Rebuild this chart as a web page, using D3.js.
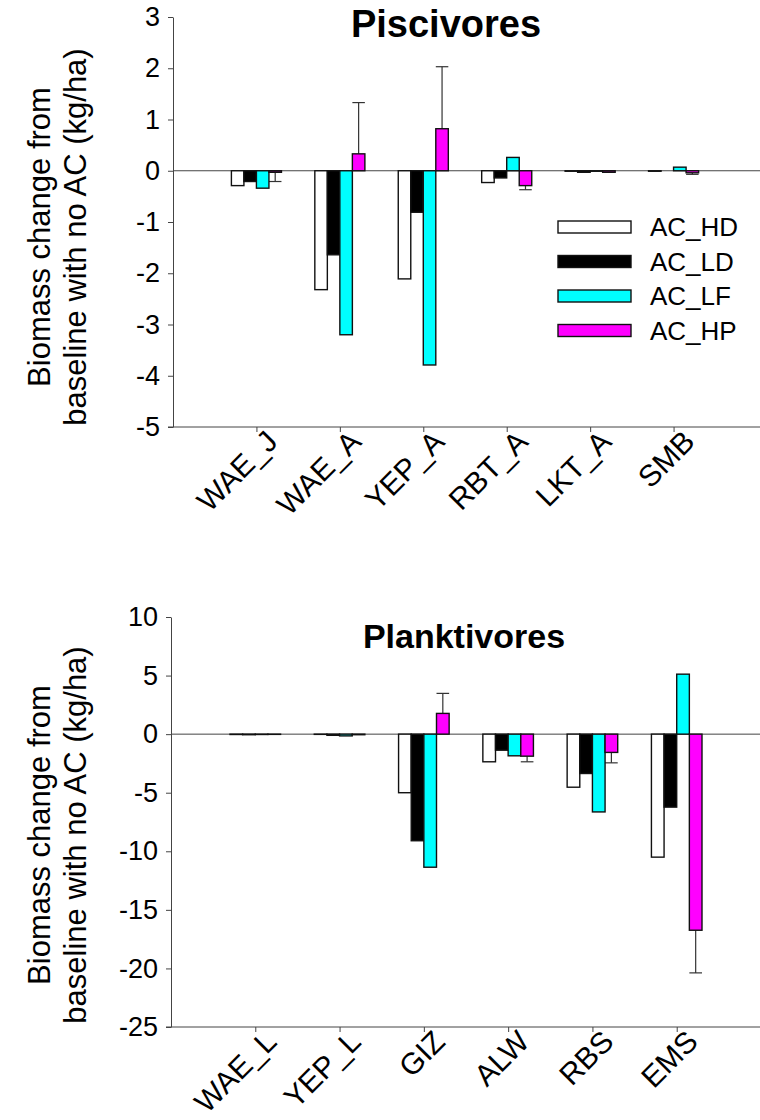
<!DOCTYPE html>
<html>
<head>
<meta charset="utf-8">
<script src="https://cdn.jsdelivr.net/npm/d3@7"></script>
<style>
  body { margin: 0; background: #fff; }
  text { font-family: "Liberation Sans", Arial, sans-serif; }
</style>
</head>
<body>
<div id="chart"></div>
<script>
let series = ['AC_HD', 'AC_LD', 'AC_LF', 'AC_HP']
let colors = ['#ffffff', '#000000', '#00ffff', '#ff00ff']

// piscivores panel
let pisciSpecies = ['WAE_J', 'WAE_A', 'YEP_A', 'RBT_A', 'LKT_A', 'SMB']
let pisciHD = [-0.29, -2.32, -2.11, -0.23, -0.01, -0.01]
let pisciLD = [-0.21, -1.64, -0.81, -0.14, -0.03, 0.0]
let pisciLF = [-0.34, -3.2, -3.79, 0.26, -0.01, 0.07]
let pisciHP = [-0.03, 0.33, 0.82, -0.29, -0.03, -0.04]
let pisciErr = [0.18, 1.0, 1.21, 0.08, 0, 0.03]
let pisciTicks = [3, 2, 1, 0, -1, -2, -3, -4, -5]

// planktivores panel
let planktiSpecies = ['WAE_L', 'YEP_L', 'GIZ', 'ALW', 'RBS', 'EMS']
let planktiHD = [-0.03, -0.02, -5.0, -2.36, -4.53, -10.5]
let planktiLD = [-0.05, -0.1, -9.1, -1.37, -3.36, -6.23]
let planktiLF = [-0.03, -0.15, -11.36, -1.85, -6.64, 5.12]
let planktiHP = [-0.02, -0.05, 1.77, -1.88, -1.56, -16.74]
let planktiErr = [0, 0, 1.71, 0.48, 0.89, 3.64]
let planktiTicks = [10, 5, 0, -5, -10, -15, -20, -25]

let width = 760
let height = 1120

let svg = d3
  .select('#chart')
  .append('svg')
  .attr('width', width)
  .attr('height', height)

function drawPanel(opts) {
  let g = svg.append('g')

  let x = d3.scaleLinear().domain([0, 7]).range([opts.left, opts.right])
  let step = x(1) - x(0)
  let inner = d3
    .scaleBand()
    .domain(series)
    .range([-step * 0.3, step * 0.3])
  let y = d3
    .scaleLinear()
    .domain(d3.extent(opts.ticks))
    .range([opts.bottom, opts.top])

  let rows = opts.species.map((name, i) => ({
    name: name,
    pos: i + 1,
    values: opts.values.map(v => v[i]),
    err: opts.err[i]
  }))

  // zero line
  g.append('line')
    .attr('x1', opts.left)
    .attr('x2', width)
    .attr('y1', y(0))
    .attr('y2', y(0))
    .attr('stroke', '#444')
    .attr('stroke-width', 1)

  // error bars on AC_HP only
  let hp = series.indexOf('AC_HP')
  rows.filter(d => d.err > 0).forEach(d => {
    let v = d.values[hp]
    let end = v >= 0 ? v + d.err : v - d.err
    let cx = x(d.pos) + inner(series[hp]) + inner.bandwidth() / 2
    g.append('line')
      .attr('x1', cx).attr('x2', cx)
      .attr('y1', y(v)).attr('y2', y(end))
      .attr('stroke', '#333')
      .attr('stroke-width', 1.2)
    g.append('line')
      .attr('x1', cx - inner.bandwidth() / 2)
      .attr('x2', cx + inner.bandwidth() / 2)
      .attr('y1', y(end)).attr('y2', y(end))
      .attr('stroke', '#333')
      .attr('stroke-width', 1.2)
  })

  // bars
  g.selectAll('.grp')
    .data(rows)
    .enter()
    .append('g')
    .attr('class', 'grp')
    .attr('transform', d => 'translate(' + x(d.pos) + ',0)')
    .selectAll('rect')
    .data(d => d.values.map((v, j) => ({ key: series[j], value: v, j: j })))
    .enter()
    .append('rect')
    .attr('x', d => inner(d.key))
    .attr('width', inner.bandwidth())
    .attr('y', d => y(Math.max(0, d.value)))
    .attr('height', d => Math.abs(y(d.value) - y(0)))
    .attr('fill', d => colors[d.j])
    .attr('stroke', '#111')
    .attr('stroke-width', 1.4)

  // y axis
  let yAxis = d3
    .axisLeft(y)
    .tickValues(opts.ticks)
    .tickFormat(d => String(d))
    .tickSize(5)
    .tickSizeOuter(0)
    .tickPadding(8)
  let yg = g.append('g')
    .attr('transform', 'translate(' + opts.left + ',0)')
    .call(yAxis)
  yg.selectAll('text').attr('font-size', 27).attr('fill', '#000')
  yg.selectAll('line, path').attr('stroke', '#444')

  // x axis
  let xAxis = d3
    .axisBottom(x)
    .tickValues(rows.map(d => d.pos))
    .tickFormat((d, i) => opts.species[i])
    .tickSize(5)
    .tickSizeOuter(0)
  let xg = g.append('g')
    .attr('transform', 'translate(0,' + opts.bottom + ')')
    .call(xAxis)
  xg.select('.domain').remove()
  xg.append('line')
    .attr('x1', opts.left - 5)
    .attr('x2', width)
    .attr('stroke', '#444')
  xg.selectAll('line').attr('stroke', '#444')
  xg.selectAll('text')
    .attr('font-size', 30)
    .attr('fill', '#000')
    .attr('text-anchor', 'end')
    .attr('x', 0)
    .attr('y', 0)
    .attr('dy', '0.35em')
    .attr('transform', 'translate(15,9) rotate(-45)')

  // y axis title
  let mid = opts.titleMid
  g.append('text')
    .attr('transform', 'translate(50,' + mid + ') rotate(-90)')
    .attr('text-anchor', 'middle')
    .attr('font-size', 31)
    .text('Biomass change from')
  g.append('text')
    .attr('transform', 'translate(86,' + mid + ') rotate(-90)')
    .attr('text-anchor', 'middle')
    .attr('font-size', 31)
    .text('baseline with no AC (kg/ha)')

  // panel title
  g.append('text')
    .attr('x', opts.titleX)
    .attr('y', opts.titleY)
    .attr('text-anchor', 'middle')
    .attr('font-size', opts.titleSize)
    .attr('font-weight', 'bold')
    .text(opts.title)
}

drawPanel({
  title: 'Piscivores',
  titleX: 446,
  titleY: 37,
  titleSize: 38,
  titleMid: 237,
  species: pisciSpecies,
  values: [pisciHD, pisciLD, pisciLF, pisciHP],
  err: pisciErr,
  ticks: pisciTicks,
  left: 173,
  right: 757,
  top: 17,
  bottom: 427
})

drawPanel({
  title: 'Planktivores',
  titleX: 464,
  titleY: 648,
  titleSize: 34,
  titleMid: 835,
  species: planktiSpecies,
  values: [planktiHD, planktiLD, planktiLF, planktiHP],
  err: planktiErr,
  ticks: planktiTicks,
  left: 171,
  right: 761,
  top: 617,
  bottom: 1027
})

// legend
let legend = svg.append('g').attr('transform', 'translate(558,221)')
legend
  .selectAll('g')
  .data(series)
  .enter()
  .append('g')
  .attr('transform', (d, i) => 'translate(0,' + i * 34.5 + ')')
  .each(function(d, i) {
    let row = d3.select(this)
    row.append('rect')
      .attr('width', 73)
      .attr('height', 12)
      .attr('fill', colors[i])
      .attr('stroke', '#111')
      .attr('stroke-width', 1.4)
    row.append('text')
      .attr('x', 92)
      .attr('y', 6)
      .attr('dy', '0.35em')
      .attr('font-size', 26)
      .text(d)
  })
</script>
</body>
</html>
